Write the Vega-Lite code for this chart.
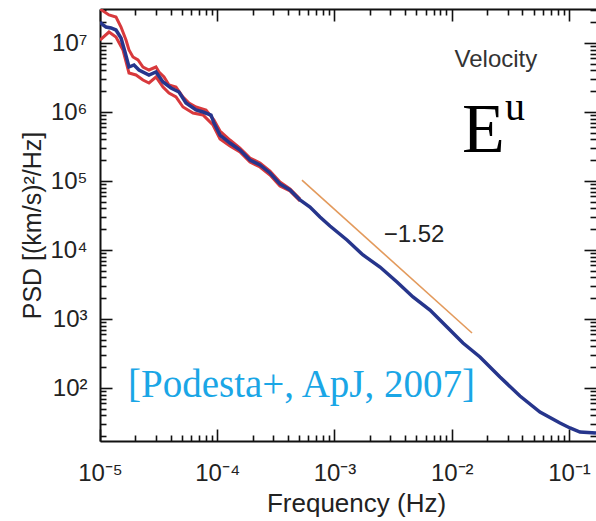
{
  "$schema": "https://vega.github.io/schema/vega-lite/v6.json",
  "width": 496,
  "height": 432,
  "autosize": "none",
  "padding": {"left": 100, "top": 9, "right": 0, "bottom": 80},
  "background": "white",
  "view": {"stroke": null},
  "config": {
    "font": "Liberation Sans",
    "axis": {
      "grid": false,
      "domainColor": "#111",
      "domainWidth": 2,
      "ticks": true,
      "tickColor": "#111",
      "tickWidth": 1.6,
      "tickSize": 12,
      "labelFont": "Liberation Sans",
      "labelFontSize": 24,
      "labelColor": "#222",
      "labelOverlap": false,
      "labelFlush": false,
      "titleFont": "Liberation Sans",
      "titleFontWeight": "normal",
      "titleColor": "#222"
    }
  },
  "datasets": {
    "psd": [
      {"f": 1e-5, "P": 2.015e7, "s": "mean"},
      {"f": 1.061e-5, "P": 1.824e7, "s": "mean"},
      {"f": 1.125e-5, "P": 1.706e7, "s": "mean"},
      {"f": 1.241e-5, "P": 1.650e7, "s": "mean"},
      {"f": 1.369e-5, "P": 1.543e7, "s": "mean"},
      {"f": 1.511e-5, "P": 1.182e7, "s": "mean"},
      {"f": 1.634e-5, "P": 7.406e6, "s": "mean"},
      {"f": 1.767e-5, "P": 4.489e6, "s": "mean"},
      {"f": 1.950e-5, "P": 4.800e6, "s": "mean"},
      {"f": 2.150e-5, "P": 4.062e6, "s": "mean"},
      {"f": 2.617e-5, "P": 3.438e6, "s": "mean"},
      {"f": 3.003e-5, "P": 3.799e6, "s": "mean"},
      {"f": 3.446e-5, "P": 2.721e6, "s": "mean"},
      {"f": 4.032e-5, "P": 2.228e6, "s": "mean"},
      {"f": 4.718e-5, "P": 1.949e6, "s": "mean"},
      {"f": 5.414e-5, "P": 1.350e6, "s": "mean"},
      {"f": 6.589e-5, "P": 1.069e6, "s": "mean"},
      {"f": 7.558e-5, "P": 1.000e6, "s": "mean"},
      {"f": 8.846e-5, "P": 9.047e5, "s": "mean"},
      {"f": 9.382e-5, "P": 6.928e5, "s": "mean"},
      {"f": 1.056e-4, "P": 4.642e5, "s": "mean"},
      {"f": 1.284e-4, "P": 3.554e5, "s": "mean"},
      {"f": 1.563e-4, "P": 2.813e5, "s": "mean"},
      {"f": 1.902e-4, "P": 2.015e5, "s": "mean"},
      {"f": 2.315e-4, "P": 1.706e5, "s": "mean"},
      {"f": 2.818e-4, "P": 1.306e5, "s": "mean"},
      {"f": 3.429e-4, "P": 9.047e4, "s": "mean"},
      {"f": 4.173e-4, "P": 7.406e4, "s": "mean"},
      {"f": 5.080e-4, "P": 5.304e4, "s": "mean"},
      {"f": 6.180e-4, "P": 4.201e4, "s": "mean"},
      {"f": 7.520e-4, "P": 3.008e4, "s": "mean"},
      {"f": 9.153e-4, "P": 2.228e4, "s": "mean"},
      {"f": 1.278e-3, "P": 1.396e4, "s": "mean"},
      {"f": 1.751e-3, "P": 8.462e3, "s": "mean"},
      {"f": 2.444e-3, "P": 5.671e3, "s": "mean"},
      {"f": 3.412e-3, "P": 3.438e3, "s": "mean"},
      {"f": 4.671e-3, "P": 2.084e3, "s": "mean"},
      {"f": 6.524e-3, "P": 1.350e3, "s": "mean"},
      {"f": 9.110e-3, "P": 765.7, "s": "mean"},
      {"f": 1.247e-2, "P": 448.9, "s": "mean"},
      {"f": 1.741e-2, "P": 281.3, "s": "mean"},
      {"f": 2.579e-2, "P": 144.3, "s": "mean"},
      {"f": 3.820e-2, "P": 76.57, "s": "mean"},
      {"f": 5.657e-2, "P": 44.89, "s": "mean"},
      {"f": 8.380e-2, "P": 31.11, "s": "mean"},
      {"f": 0.1020, "P": 26.33, "s": "mean"},
      {"f": 0.1241, "P": 23.03, "s": "mean"},
      {"f": 0.1699, "P": 22.28, "s": "mean"},

      {"f": 1e-5, "P": 3.111e7, "s": "upper"},
      {"f": 1.193e-5, "P": 2.546e7, "s": "upper"},
      {"f": 1.369e-5, "P": 2.382e7, "s": "upper"},
      {"f": 1.511e-5, "P": 1.706e7, "s": "upper"},
      {"f": 1.666e-5, "P": 1.105e7, "s": "upper"},
      {"f": 1.767e-5, "P": 7.917e6, "s": "upper"},
      {"f": 1.911e-5, "P": 6.268e6, "s": "upper"},
      {"f": 2.109e-5, "P": 5.671e6, "s": "upper"},
      {"f": 2.326e-5, "P": 4.489e6, "s": "upper"},
      {"f": 2.617e-5, "P": 4.062e6, "s": "upper"},
      {"f": 3.003e-5, "P": 4.489e6, "s": "upper"},
      {"f": 3.186e-5, "P": 3.799e6, "s": "upper"},
      {"f": 3.515e-5, "P": 3.215e6, "s": "upper"},
      {"f": 3.878e-5, "P": 2.462e6, "s": "upper"},
      {"f": 4.448e-5, "P": 2.303e6, "s": "upper"},
      {"f": 5.104e-5, "P": 1.650e6, "s": "upper"},
      {"f": 5.742e-5, "P": 1.350e6, "s": "upper"},
      {"f": 6.589e-5, "P": 1.182e6, "s": "upper"},
      {"f": 8.020e-5, "P": 1.069e6, "s": "upper"},
      {"f": 9.382e-5, "P": 7.657e5, "s": "upper"},
      {"f": 1.056e-4, "P": 5.304e5, "s": "upper"},
      {"f": 1.284e-4, "P": 3.929e5, "s": "upper"},
      {"f": 1.563e-4, "P": 3.008e5, "s": "upper"},
      {"f": 1.902e-4, "P": 2.154e5, "s": "upper"},
      {"f": 2.315e-4, "P": 1.824e5, "s": "upper"},
      {"f": 2.818e-4, "P": 1.396e5, "s": "upper"},
      {"f": 3.429e-4, "P": 9.672e4, "s": "upper"},
      {"f": 4.173e-4, "P": 7.657e4, "s": "upper"},
      {"f": 5.080e-4, "P": 5.484e4, "s": "upper"},

      {"f": 1e-5, "P": 1.105e7, "s": "lower"},
      {"f": 1.193e-5, "P": 1.443e7, "s": "lower"},
      {"f": 1.369e-5, "P": 1.222e7, "s": "lower"},
      {"f": 1.571e-5, "P": 7.917e6, "s": "lower"},
      {"f": 1.767e-5, "P": 3.674e6, "s": "lower"},
      {"f": 2.028e-5, "P": 3.438e6, "s": "lower"},
      {"f": 2.326e-5, "P": 2.910e6, "s": "lower"},
      {"f": 2.617e-5, "P": 2.633e6, "s": "lower"},
      {"f": 3.003e-5, "P": 3.215e6, "s": "lower"},
      {"f": 3.446e-5, "P": 2.303e6, "s": "lower"},
      {"f": 3.878e-5, "P": 1.886e6, "s": "lower"},
      {"f": 4.448e-5, "P": 1.650e6, "s": "lower"},
      {"f": 5.104e-5, "P": 1.182e6, "s": "lower"},
      {"f": 6.212e-5, "P": 9.672e5, "s": "lower"},
      {"f": 7.558e-5, "P": 9.047e5, "s": "lower"},
      {"f": 9.200e-5, "P": 6.480e5, "s": "lower"},
      {"f": 1.056e-4, "P": 4.062e5, "s": "lower"},
      {"f": 1.284e-4, "P": 3.215e5, "s": "lower"},
      {"f": 1.563e-4, "P": 2.633e5, "s": "lower"},
      {"f": 1.902e-4, "P": 1.886e5, "s": "lower"},
      {"f": 2.315e-4, "P": 1.595e5, "s": "lower"},
      {"f": 2.818e-4, "P": 1.222e5, "s": "lower"},
      {"f": 3.429e-4, "P": 8.462e4, "s": "lower"},
      {"f": 4.173e-4, "P": 7.164e4, "s": "lower"},
      {"f": 5.080e-4, "P": 5.130e4, "s": "lower"}
    ],
    "fit": [
      {"f": 5.28e-4, "P": 1.03e5},
      {"f": 1.489e-2, "P": 627}
    ]
  },
  "resolve": {"axis": {"x": "independent", "y": "independent"}},
  "layer": [
    {
      "data": {"name": "psd"},
      "transform": [{"filter": "datum.s !== 'mean'"}],
      "mark": {"type": "line", "color": "#d8393c", "strokeWidth": 3, "clip": true},
      "encoding": {
        "x": {"field": "f", "type": "quantitative", "scale": {"type": "log", "domain": [1e-5, 0.17], "nice": false},
          "axis": {
            "orient": "bottom",
            "values": [1e-5,2e-5,3e-5,4e-5,5e-5,6e-5,7e-5,8e-5,9e-5,1e-4,2e-4,3e-4,4e-4,5e-4,6e-4,7e-4,8e-4,9e-4,1e-3,2e-3,3e-3,4e-3,5e-3,6e-3,7e-3,8e-3,9e-3,1e-2,2e-2,3e-2,4e-2,5e-2,6e-2,7e-2,8e-2,9e-2,0.1],
            "encoding": {"ticks": {"y2": {"condition": {"test": "abs(log(datum.value)/LN10 - round(log(datum.value)/LN10)) < 0.001", "value": -12}, "value": -6}}},
            "labelExpr": "abs(log(datum.value)/LN10 - round(log(datum.value)/LN10)) < 0.001 ? '10' + (round(log(datum.value)/LN10) < 0 ? '⁻' : '') + ['⁰','¹','²','³','⁴','⁵','⁶','⁷','⁸','⁹'][abs(round(log(datum.value)/LN10))] : ''",
            "labelPadding": 8,
            "labelBaseline": "top",
            "title": "Frequency (Hz)",
            "titleFontSize": 26,
            "titleX": 256,
            "titleY": 70,
            "titleBaseline": "alphabetic",
            "titleAlign": "center"
          }
        },
        "y": {"field": "P", "type": "quantitative", "scale": {"type": "log", "domain": [17.06, 3.11e7], "nice": false},
          "axis": {
            "orient": "left",
            "values": [20,30,40,50,60,70,80,90,100,200,300,400,500,600,700,800,900,1000,2000,3000,4000,5000,6000,7000,8000,9000,1e4,2e4,3e4,4e4,5e4,6e4,7e4,8e4,9e4,1e5,2e5,3e5,4e5,5e5,6e5,7e5,8e5,9e5,1e6,2e6,3e6,4e6,5e6,6e6,7e6,8e6,9e6,1e7,2e7,3e7],
            "encoding": {"ticks": {"x2": {"condition": {"test": "abs(log(datum.value)/LN10 - round(log(datum.value)/LN10)) < 0.001", "value": 12}, "value": 6}}},
            "labelExpr": "abs(log(datum.value)/LN10 - round(log(datum.value)/LN10)) < 0.001 ? '10' + (round(log(datum.value)/LN10) < 0 ? '⁻' : '') + ['⁰','¹','²','³','⁴','⁵','⁶','⁷','⁸','⁹'][abs(round(log(datum.value)/LN10))] : ''",
            "labelPadding": 1,
            "title": "PSD [(km/s)²/Hz]",
            "titleFontSize": 25,
            "titleX": -68,
            "titleY": 216,
            "titleAngle": -90,
            "titleBaseline": "middle",
            "titleAlign": "center"
          }
        },
        "detail": {"field": "s"}
      }
    },
    {
      "data": {"name": "psd"},
      "transform": [{"filter": "datum.s === 'mean'"}],
      "mark": {"type": "line", "color": "#26358c", "strokeWidth": 3.5, "clip": true},
      "encoding": {
        "x": {"field": "f", "type": "quantitative",
          "axis": {
            "orient": "top",
            "values": [1e-5,2e-5,3e-5,4e-5,5e-5,6e-5,7e-5,8e-5,9e-5,1e-4,2e-4,3e-4,4e-4,5e-4,6e-4,7e-4,8e-4,9e-4,1e-3,2e-3,3e-3,4e-3,5e-3,6e-3,7e-3,8e-3,9e-3,1e-2,2e-2,3e-2,4e-2,5e-2,6e-2,7e-2,8e-2,9e-2,0.1],
            "encoding": {"ticks": {"y2": {"condition": {"test": "abs(log(datum.value)/LN10 - round(log(datum.value)/LN10)) < 0.001", "value": 12}, "value": 6}}},
            "labels": false,
            "title": null
          }
        },
        "y": {"field": "P", "type": "quantitative",
          "axis": {
            "orient": "right",
            "domain": false,
            "values": [20,30,40,50,60,70,80,90,100,200,300,400,500,600,700,800,900,1000,2000,3000,4000,5000,6000,7000,8000,9000,1e4,2e4,3e4,4e4,5e4,6e4,7e4,8e4,9e4,1e5,2e5,3e5,4e5,5e5,6e5,7e5,8e5,9e5,1e6,2e6,3e6,4e6,5e6,6e6,7e6,8e6,9e6,1e7,2e7,3e7],
            "encoding": {"ticks": {"x2": {"condition": {"test": "abs(log(datum.value)/LN10 - round(log(datum.value)/LN10)) < 0.001", "value": -12}, "value": -6}}},
            "labels": false,
            "title": null
          }
        }
      }
    },
    {
      "data": {"name": "fit"},
      "mark": {"type": "line", "color": "#e39a5c", "strokeWidth": 1.6},
      "encoding": {
        "x": {"field": "f", "type": "quantitative", "axis": null},
        "y": {"field": "P", "type": "quantitative", "axis": null}
      }
    },
    {
      "data": {"values": [{"f": 0.0238, "P": 4.49e6, "t": "Velocity"}]},
      "mark": {"type": "text", "font": "Liberation Sans", "fontSize": 24, "color": "#333", "align": "center", "baseline": "alphabetic"},
      "encoding": {
        "x": {"field": "f", "type": "quantitative", "axis": null},
        "y": {"field": "P", "type": "quantitative", "axis": null},
        "text": {"field": "t"}
      }
    },
    {
      "data": {"values": [{"f": 0.004765, "P": 1.306e4, "t": "−1.52"}]},
      "mark": {"type": "text", "font": "Liberation Sans", "fontSize": 24, "color": "#222", "align": "center", "baseline": "alphabetic"},
      "encoding": {
        "x": {"field": "f", "type": "quantitative", "axis": null},
        "y": {"field": "P", "type": "quantitative", "axis": null},
        "text": {"field": "t"}
      }
    },
    {
      "data": {"values": [{"f": 0.01223, "P": 2.63e5, "t": "E"}]},
      "mark": {"type": "text", "font": "Liberation Serif", "fontSize": 70, "color": "#000", "align": "left", "baseline": "alphabetic"},
      "encoding": {
        "x": {"field": "f", "type": "quantitative", "axis": null},
        "y": {"field": "P", "type": "quantitative", "axis": null},
        "text": {"field": "t"}
      }
    },
    {
      "data": {"values": [{"f": 0.02844, "P": 7.66e5, "t": "u"}]},
      "mark": {"type": "text", "font": "Liberation Serif", "fontSize": 40, "color": "#000", "align": "left", "baseline": "alphabetic"},
      "encoding": {
        "x": {"field": "f", "type": "quantitative", "axis": null},
        "y": {"field": "P", "type": "quantitative", "axis": null},
        "text": {"field": "t"}
      }
    },
    {
      "data": {"values": [{"f": 1.734e-5, "P": 74.1, "t": "[Podesta+, ApJ, 2007]"}]},
      "mark": {"type": "text", "font": "Liberation Serif", "fontSize": 39, "color": "#1aa6e6", "align": "left", "baseline": "alphabetic"},
      "encoding": {
        "x": {"field": "f", "type": "quantitative", "axis": null},
        "y": {"field": "P", "type": "quantitative", "axis": null},
        "text": {"field": "t"}
      }
    }
  ]
}
